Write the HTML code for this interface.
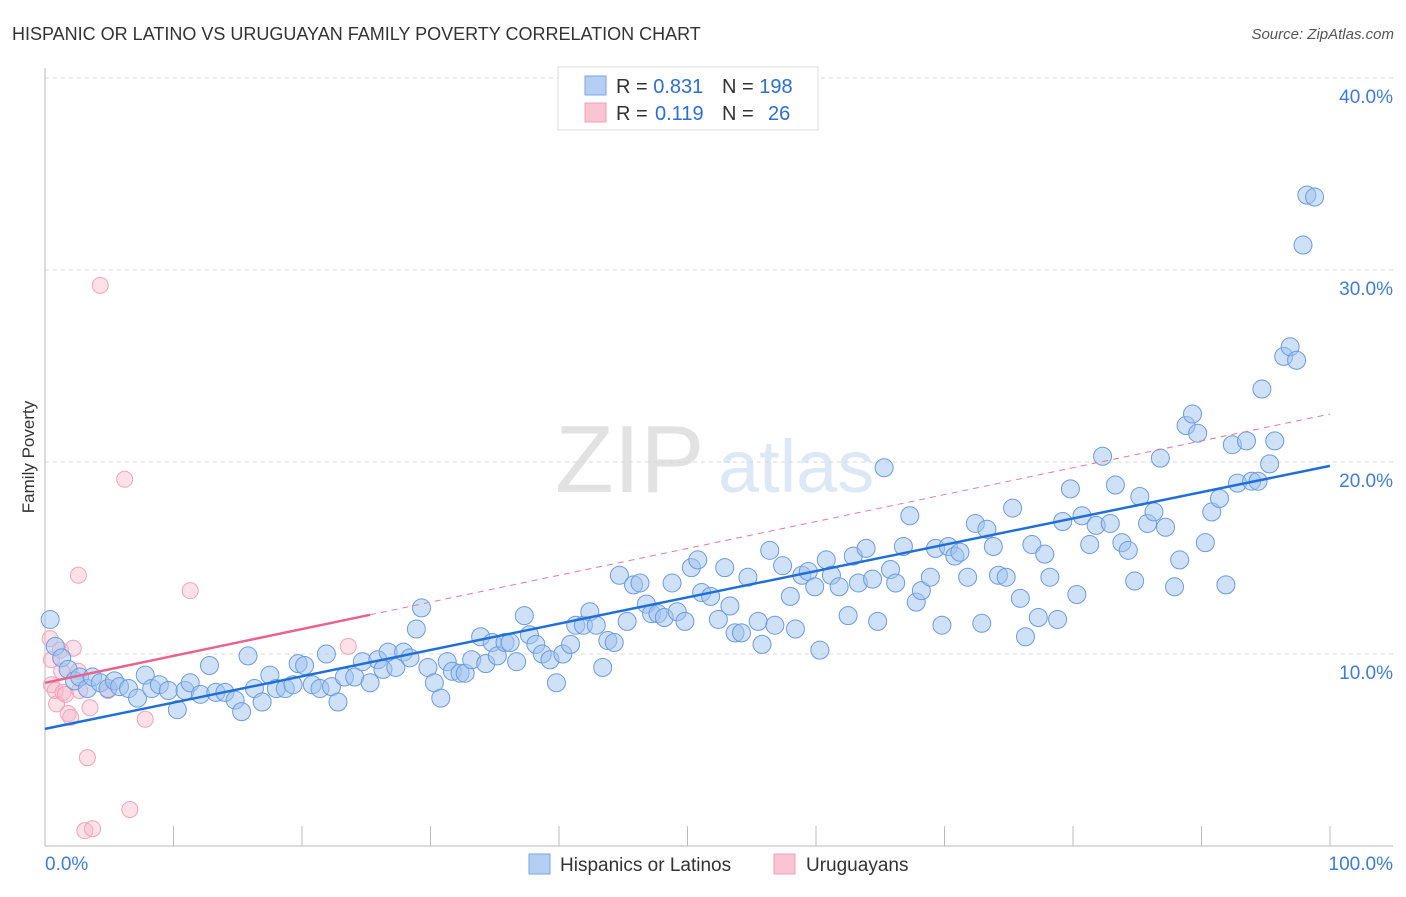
<!DOCTYPE html>
<html><head><meta charset="utf-8"><style>
body{margin:0;background:#fff;font-family:"Liberation Sans",sans-serif}
svg text{font-family:"Liberation Sans",sans-serif}
</style></head><body>
<svg id="c" width="1406" height="892">
<text x="12" y="40" font-size="18" fill="#333">HISPANIC OR LATINO VS URUGUAYAN FAMILY POVERTY CORRELATION CHART</text>
<text x="1394" y="39" font-size="15" fill="#555" font-style="italic" text-anchor="end">Source: ZipAtlas.com</text>
<text x="0" y="0" transform="translate(34,457) rotate(-90)" font-size="17" fill="#333" text-anchor="middle">Family Poverty</text>
<g><text x="555" y="492" font-size="96" font-family="Liberation Serif" fill="#e2e2e2">ZIP</text><text x="718" y="492" font-size="74" fill="#dce8f6">atlas</text></g>
<g id="grid"></g><g id="marks"></g>
<g>
<rect x="558" y="67" width="260" height="63" fill="#fff" stroke="#ddd"/>
<rect x="585" y="76" width="21" height="19" fill="#b5cff3" stroke="#7aa5e0"/>
<rect x="585" y="103" width="21" height="19" fill="#f9c5d4" stroke="#f0a0b8"/>
<text x="616" y="93" font-size="20" fill="#333">R = <tspan fill="#2a6ed6">0.831</tspan><tspan x="722">N = </tspan><tspan fill="#2a6ed6">198</tspan></text>
<text x="616" y="120" font-size="20" fill="#333">R = <tspan fill="#2a6ed6" x="655">0.119</tspan><tspan x="722">N = </tspan><tspan fill="#2a6ed6" x="768">26</tspan></text>
</g>
<g>
<rect x="529" y="854" width="21" height="20" fill="#b5cff3" stroke="#7aa5e0"/>
<text x="560" y="871" font-size="19" fill="#333">Hispanics or Latinos</text>
<rect x="774" y="854" width="21" height="20" fill="#f9c5d4" stroke="#f0a0b8"/>
<text x="806" y="871" font-size="19" fill="#333">Uruguayans</text>
</g>
</svg>
<script>
const yTicks=[10,20,30,40];
const yTickLabels=["10.0%","20.0%","30.0%","40.0%"];
const xTickLabels=["0.0%","100.0%"];
const blueX=[0.4,0.8,1.3,1.8,2.3,2.7,3.3,3.7,4.3,4.9,5.4,5.8,6.5,7.2,7.8,8.3,8.9,9.6,10.3,10.9,11.3,12.1,12.8,13.3,14.0,14.8,15.3,15.8,16.3,16.9,17.5,18.0,18.7,19.3,19.7,20.2,20.8,21.4,21.9,22.3,22.8,23.3,24.1,24.7,25.3,25.9,26.3,26.7,27.3,27.9,28.4,28.9,29.3,29.8,30.3,30.8,31.3,31.7,32.3,32.7,33.2,33.9,34.3,34.8,35.2,35.8,36.2,36.7,37.3,37.7,38.2,38.7,39.3,39.8,40.3,40.9,41.3,41.9,42.4,42.9,43.4,43.8,44.3,44.7,45.3,45.8,46.3,46.8,47.2,47.7,48.2,48.8,49.2,49.8,50.3,50.8,51.1,51.8,52.4,52.9,53.3,53.7,54.2,54.7,55.5,55.8,56.4,56.8,57.4,58.0,58.4,58.9,59.4,59.9,60.3,60.8,61.2,61.8,62.5,62.9,63.3,63.9,64.4,64.8,65.3,65.8,66.2,66.8,67.3,67.8,68.2,68.9,69.3,69.8,70.3,70.8,71.2,71.8,72.4,72.9,73.3,73.8,74.2,74.8,75.3,75.9,76.3,76.8,77.3,77.8,78.2,78.8,79.2,79.8,80.3,80.7,81.3,81.8,82.3,82.9,83.3,83.8,84.3,84.8,85.2,85.8,86.3,86.8,87.2,87.9,88.3,88.8,89.3,89.7,90.3,90.8,91.4,91.9,92.4,92.8,93.5,93.9,94.4,94.7,95.3,95.7,96.4,96.9,97.4,97.9,98.2,98.8];
const blueY=[11.8,10.4,9.8,9.2,8.6,8.8,8.2,8.8,8.5,8.2,8.6,8.3,8.2,7.7,8.9,8.2,8.4,8.1,7.1,8.1,8.5,7.9,9.4,8.0,8.0,7.6,7.0,9.9,8.2,7.5,8.9,8.2,8.2,8.4,9.5,9.4,8.4,8.2,10.0,8.3,7.5,8.8,8.8,9.6,8.5,9.7,9.2,10.1,9.3,10.1,9.8,11.3,12.4,9.3,8.5,7.7,9.6,9.1,9.0,9.0,9.7,10.9,9.5,10.6,9.9,10.6,10.6,9.6,12.0,11.0,10.5,10.0,9.7,8.5,10.0,10.5,11.5,11.5,12.2,11.5,9.3,10.7,10.6,14.1,11.7,13.6,13.7,12.6,12.1,12.1,11.9,13.7,12.2,11.7,14.5,14.9,13.2,13.0,11.8,14.5,12.5,11.1,11.1,14.0,11.7,10.5,15.4,11.5,14.6,13.0,11.3,14.1,14.3,13.5,10.2,14.9,14.1,13.5,12.0,15.1,13.7,15.5,13.9,11.7,19.7,14.4,13.7,15.6,17.2,12.7,13.3,14.0,15.5,11.5,15.6,15.1,15.3,14.0,16.8,11.6,16.5,15.6,14.1,14.0,17.6,12.9,10.9,15.7,11.9,15.2,14.0,11.8,16.9,18.6,13.1,17.2,15.7,16.7,20.3,16.8,18.8,15.8,15.4,13.8,18.2,16.8,17.4,20.2,16.6,13.5,14.9,21.9,22.5,21.5,15.8,17.4,18.1,13.6,20.9,18.9,21.1,19.0,19.0,23.8,19.9,21.1,25.5,26.0,25.3,31.3,33.9,33.8];
const pinkX=[0.4,0.5,0.5,0.8,0.9,1.2,1.3,1.4,1.6,1.8,2.0,2.2,2.6,2.7,3.1,3.3,3.5,3.7,4.3,4.9,6.2,6.6,7.8,2.6,11.3,23.6];
const pinkY=[10.8,9.7,8.4,8.1,7.4,10.2,9.1,8.0,7.9,6.9,6.7,10.3,9.1,8.1,0.8,4.6,7.2,0.9,29.2,8.1,19.1,1.9,6.6,14.1,13.3,10.4];
const blueTrend=[6.1,19.8];
const pinkTrend=[8.5,22.5];
const pinkSolidEnd=25.3;

const NS="http://www.w3.org/2000/svg";
const X0=45,X1=1330,Y0=846,PPY=19.2;
const sx=v=>X0+(X1-X0)*v/100, sy=v=>Y0-v*PPY;
function mk(tag,attrs,parent){const e=document.createElementNS(NS,tag);for(const k in attrs)e.setAttribute(k,attrs[k]);parent.appendChild(e);return e;}
const grid=document.getElementById('grid'),marks=document.getElementById('marks');
yTicks.forEach((t,i)=>{
  const l=mk('line',{x1:45,x2:1393,y1:sy(t),y2:sy(t),stroke:'#d8d8d8','stroke-dasharray':'4,4'},grid);
  
  
  const tx=mk('text',{x:1393,y:sy(t)+25,'font-size':19,fill:'#3b7dd8','text-anchor':'end'},grid);
  tx.textContent=yTickLabels[i];
  
  
});
const ax=mk('line',{x1:45,x2:45,y1:68,y2:846,stroke:'#bbb'},grid);


const bx=mk('line',{x1:45,x2:1393,y1:846,y2:846,stroke:'#bbb'},grid);


for(let i=1;i<=10;i++){
  const t=mk('line',{x1:sx(i*10),x2:sx(i*10),y1:826,y2:846,stroke:'#bbb'},grid);
  
  
}
[[0,'start',45],[100,'end',1393]].forEach((a,i)=>{
  const t=mk('text',{x:a[2],y:870,'font-size':19,fill:'#3b7dd8','text-anchor':a[1]},grid);
  t.textContent=xTickLabels[i];
  
  
});
pinkX.forEach((x,i)=>{
  const c=mk('circle',{cx:sx(x),cy:sy(pinkY[i]),r:8,fill:'rgba(248,180,200,0.4)',stroke:'#f0a4bb','stroke-width':1},marks);
  
  
});
blueX.forEach((x,i)=>{
  const c=mk('circle',{cx:sx(x),cy:sy(blueY[i]),r:9,fill:'rgba(160,196,240,0.5)',stroke:'#6b9be0','stroke-width':1},marks);
  
  
});
const pv=x=>pinkTrend[0]+(pinkTrend[1]-pinkTrend[0])*x/100;
const pd=mk('line',{x1:sx(pinkSolidEnd),y1:sy(pv(pinkSolidEnd)),x2:sx(100),y2:sy(pinkTrend[1]),stroke:'#e87a9a','stroke-width':1,'stroke-dasharray':'6,5'},marks);


const ps=mk('line',{x1:sx(0),y1:sy(pinkTrend[0]),x2:sx(pinkSolidEnd),y2:sy(pv(pinkSolidEnd)),stroke:'#e8648c','stroke-width':2.5},marks);


const bl=mk('line',{x1:sx(0),y1:sy(blueTrend[0]),x2:sx(100),y2:sy(blueTrend[1]),stroke:'#1f6fd8','stroke-width':2.5},marks);


</script>
</body></html>
